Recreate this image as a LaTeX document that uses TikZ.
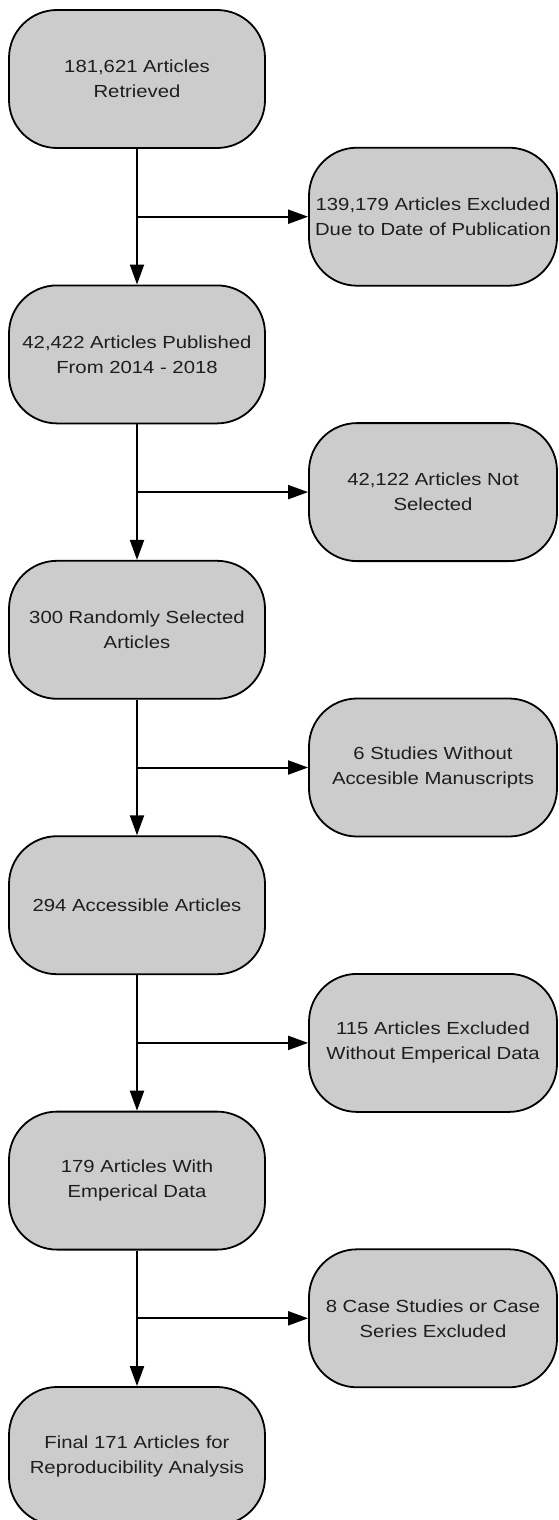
\documentclass[tikz,border=0pt]{standalone}
\usepackage{fontspec}
\setmainfont{Liberation Sans}[FakeStretch=1.16]
\usetikzlibrary{arrows.meta}
\definecolor{boxfill}{RGB}{204,204,204}
\definecolor{txt}{RGB}{30,30,30}
\tikzset{
  flowbox/.style={draw=black, line width=1.8pt, fill=boxfill, rounded corners=48pt,
    minimum height=138pt, inner sep=0pt, align=center, text=txt,
    font=\fontsize{17.5pt}{25pt}\selectfont},
  leftbox/.style={flowbox, minimum width=256pt},
  rightbox/.style={flowbox, minimum width=248pt},
  arr/.style={draw=black, line width=2pt, -{Triangle[length=20pt,width=14pt]}}
}
\begin{document}
\begin{tikzpicture}[x=1pt,y=-1pt]
\useasboundingbox (0,0) rectangle (558,1520);
\node[leftbox] (L1) at (137,79) {181,621 Articles\\Retrieved};
\node[leftbox] (L2) at (137,354.4) {42,422 Articles Published\\From 2014 - 2018};
\node[leftbox] (L3) at (137,629.8) {300 Randomly Selected\\Articles};
\node[leftbox] (L4) at (137,905.2) {294 Accessible Articles};
\node[leftbox] (L5) at (137,1180.6) {179 Articles With\\Emperical Data};
\node[leftbox] (L6) at (137,1456) {Final 171 Articles for\\Reproducibility Analysis};
\node[rightbox] (R1) at (433,216.7) {139,179 Articles Excluded\\Due to Date of Publication};
\node[rightbox] (R2) at (433,492.1) {42,122 Articles Not\\Selected};
\node[rightbox] (R3) at (433,767.5) {6 Studies Without\\Accesible Manuscripts};
\node[rightbox] (R4) at (433,1042.9) {115 Articles Excluded\\Without Emperical Data};
\node[rightbox] (R5) at (433,1318.3) {8 Case Studies or Case\\Series Excluded};
\foreach \a/\b/\r in {L1/L2/R1, L2/L3/R2, L3/L4/R3, L4/L5/R4, L5/L6/R5}{
  \draw[arr] (\a.south) -- (\b.north);
  \coordinate (j\r) at (\a.south |- \r.west);
  \draw[arr] (j\r) -- (\r.west);
}
\end{tikzpicture}
\end{document}
